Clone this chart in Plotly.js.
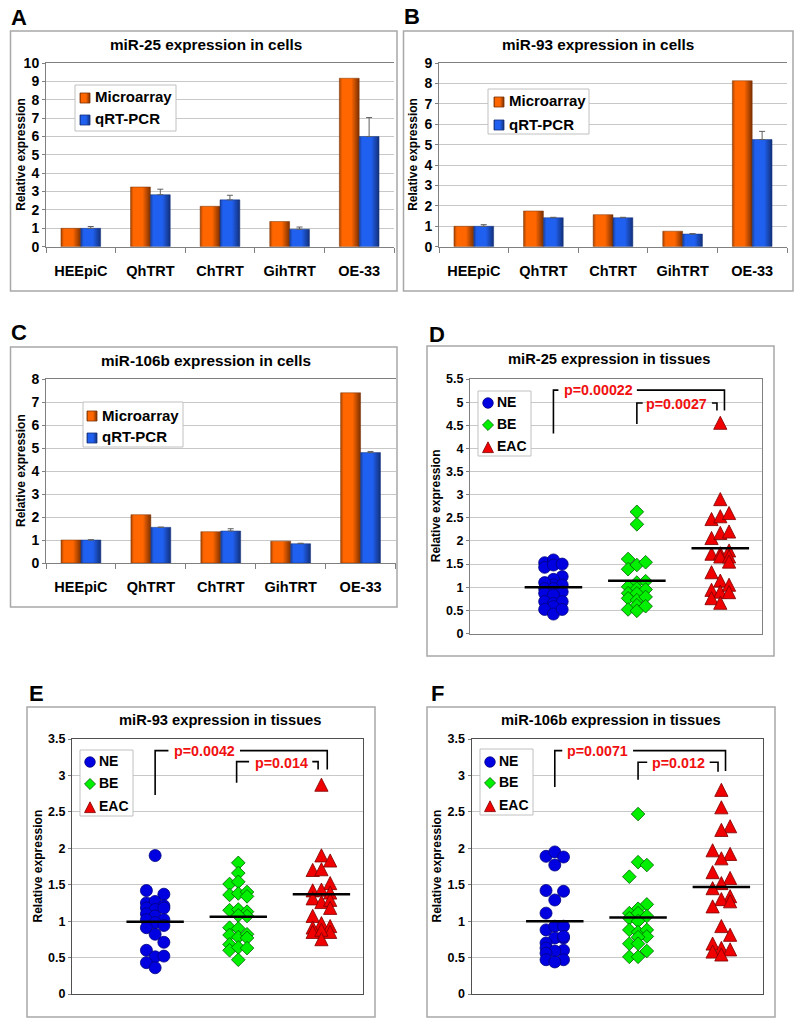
<!DOCTYPE html>
<html>
<head>
<meta charset="utf-8">
<script src="https://cdn.plot.ly/plotly-3.0.1.min.js"></script>
<style>body { margin: 0; background: #fff; }</style>
</head>
<body>
<div id="chart" style="width:800px;height:1025px"></div>
<script>
var categories = ['HEEpiC', 'QhTRT', 'ChTRT', 'GihTRT', 'OE-33'];

// bar panels
var miR25CellArray = [1, 3.25, 2.2, 1.37, 9.17];
var miR25CellPcr = [1, 2.83, 2.55, 0.95, 6.0];
var miR25CellErr = [0.1, 0.3, 0.25, 0.12, 1.03];

var miR93CellArray = [1, 1.75, 1.57, 0.76, 8.13];
var miR93CellPcr = [1, 1.42, 1.42, 0.62, 5.25];
var miR93CellErr = [0.08, 0.02, 0.02, 0.02, 0.4];

var miR106CellArray = [1, 2.1, 1.36, 0.95, 7.4];
var miR106CellPcr = [1, 1.55, 1.39, 0.84, 4.8];
var miR106CellErr = [0.01, 0.01, 0.1, 0.02, 0.05];

// tissue panels: value plus swarm column (-1, 0, 1) for each sample
var d25NE = [1.53, 1.43, 1.59, 1.48, 1.50, 1.23, 1.17, 1.05, 1.10, 1.05, 0.97, 0.97, 0.90, 0.87, 0.83, 0.69, 0.65, 0.69, 0.58, 0.52, 0.42, 0.52];
var d25NEcol = [-1, -1, 0, 0, 1, 1, 0, 0, -1, 1, -1, 0, 1, -1, 0, -1, 0, 1, 0, -1, 0, 1];
var d25BE = [2.63, 2.36, 1.61, 1.39, 1.48, 1.54, 1.10, 1.13, 1.01, 0.97, 0.95, 0.87, 0.87, 0.76, 0.72, 0.79, 0.61, 0.52, 0.49, 0.59];
var d25BEcol = [0, 0, -1, -1, 0, 1, 0, 1, -1, 0, 1, -1, 0, -1, 0, 1, 0, -1, 0, 1];
var d25EAC = [4.55, 2.90, 2.47, 2.53, 2.60, 2.06, 2.17, 2.20, 1.72, 1.73, 1.79, 1.66, 1.66, 1.55, 1.32, 1.14, 0.94, 0.90, 1.05, 0.89, 0.76, 0.66];
var d25EACcol = [0, 0, -1, 0, 1, -1, 0, 1, -1, 0, 1, 0, 1, 1, -1, 0, -1, 0, 1, 1, -1, 0];

var d93NE = [1.90, 1.42, 1.37, 1.25, 1.27, 1.21, 1.18, 1.16, 1.18, 1.10, 1.07, 1.02, 1.02, 0.98, 0.94, 0.91, 0.82, 0.71, 0.60, 0.51, 0.52, 0.43, 0.36];
var d93NEcol = [0, -1, 1, -1, 0, 1, -1, 0, 1, -1, 0, 1, -1, 0, 1, -1, 0, 1, -1, 0, 1, -1, 0];
var d93BE = [1.80, 1.66, 1.51, 1.54, 1.36, 1.38, 1.40, 1.34, 1.15, 1.16, 1.13, 1.07, 1.08, 0.91, 0.90, 0.81, 0.78, 0.82, 0.77, 0.68, 0.60, 0.64, 0.63, 0.47];
var d93BEcol = [0, 0, -1, 0, -1, 0, 1, 1, -1, 0, 1, 1, 0, -1, 0, -1, 0, 1, 1, -1, -1, 0, 1, 0];
var d93EAC = [2.87, 1.90, 1.83, 1.70, 1.71, 1.52, 1.42, 1.43, 1.39, 1.31, 1.26, 1.29, 1.18, 1.07, 0.97, 0.91, 0.93, 0.85, 0.85, 0.88, 0.75];
var d93EACcol = [0, 0, 1, -1, 0, 1, -1, 0, 1, -1, 0, 1, 1, -1, 0, -1, 1, -1, 1, 0, 0];

var d106NE = [1.89, 1.95, 1.88, 1.77, 1.42, 1.41, 1.29, 1.11, 0.88, 0.93, 0.93, 0.77, 0.77, 0.79, 0.70, 0.63, 0.60, 0.59, 0.56, 0.47, 0.47, 0.44];
var d106NEcol = [-1, 0, 1, 0, -1, 1, 0, -1, -1, 0, 1, 0, 1, 1, -1, -1, 1, 0, -1, 1, -1, 0];
var d106BE = [2.47, 1.81, 1.77, 1.61, 1.23, 1.17, 1.11, 1.11, 1.07, 1.04, 1.00, 0.88, 0.85, 0.88, 0.79, 0.78, 0.69, 0.69, 0.59, 0.51, 0.51];
var d106BEcol = [0, 0, 1, -1, 1, 0, -1, 0, 1, -1, 0, -1, 0, 1, 1, 0, -1, 0, 1, -1, 0];
var d106EAC = [2.80, 2.56, 2.30, 2.25, 1.97, 1.92, 1.86, 1.67, 1.59, 1.52, 1.45, 1.34, 1.30, 1.27, 1.20, 0.93, 0.81, 0.69, 0.63, 0.61, 0.58, 0.54];
var d106EACcol = [0, 0, 1, 0, -1, 1, 0, -1, 1, 0, -1, 1, 0, 1, -1, 0, 1, -1, 0, 1, -1, 0];

// group means, the black bars over the swarms
var d25Means = [1.0, 1.14, 1.84];
var d93Means = [0.99, 1.06, 1.37];
var d106Means = [1.0, 1.05, 1.47];
var groupCenters = [1, 2, 3];
var meanHalfWidth = 0.345;
var columnStep = 0.105;

// p value brackets as x / y lists, null breaks the line round the label
var d25Bracket1X = [1, 1, 1.06, null, 2.0, 3.05, 3.05];
var d25Bracket1Y = [4.32, 5.26, 5.26, null, 5.26, 5.26, 4.82];
var d25Bracket2X = [2, 2, 2.07, null, 2.9, 2.96, 2.96];
var d25Bracket2Y = [4.53, 4.98, 4.98, null, 4.98, 4.98, 4.82];

var d93Bracket1X = [1, 1, 1.16, null, 2.02, 3.07, 3.07];
var d93Bracket1Y = [2.73, 3.34, 3.34, null, 3.34, 3.34, 3.08];
var d93Bracket2X = [1.98, 1.98, 2.13, null, 2.89, 2.96, 2.96];
var d93Bracket2Y = [2.9, 3.19, 3.19, null, 3.19, 3.19, 3.08];

var d106Bracket1X = [1, 1, 1.09, null, 1.94, 3.05, 3.05];
var d106Bracket1Y = [2.84, 3.34, 3.34, null, 3.34, 3.34, 3.06];
var d106Bracket2X = [2, 2, 2.11, null, 2.86, 2.96, 2.96];
var d106Bracket2Y = [2.94, 3.18, 3.18, null, 3.18, 3.18, 3.05];

var FONT = 'Liberation Sans, Arial, sans-serif';
var W = 800, H = 1025;
var ORANGE = '#ff6600', BLUE = '#2060f0';
var CIRCLE_BLUE = '#0000e0', DIAMOND_GREEN = '#00f000', TRI_RED = '#f00000';

var traces = [];
var keyTraces = []; // hand built legends, kept last so they sit over the plots
var layout = {
    width: W,
    height: H,
    margin: {l: 0, r: 0, t: 0, b: 0},
    paper_bgcolor: 'white',
    plot_bgcolor: 'rgba(0,0,0,0)',
    font: {family: FONT, color: 'black'},
    bargap: 0.43,
    bargroupgap: 0,
    barmode: 'group',
    showlegend: false,
    shapes: [],
    annotations: [],
    // page sized overlay in pixels, only for the legend boxes
    xaxis7: {domain: [0, 1], range: [0, W], visible: false, anchor: 'y7'},
    yaxis7: {domain: [0, 1], range: [H, 0], visible: false, anchor: 'x7'}
};

function paperX(px) { return px / W; }
function paperY(px) { return 1 - px / H; }

function addLabel(text, px, py, size, color, angle, anchor) {
    layout.annotations.push({
        text: '<b>' + text + '</b>',
        xref: 'paper', yref: 'paper',
        x: paperX(px), y: paperY(angle ? py : py - 1),
        xanchor: anchor || 'center', yanchor: 'middle',
        textangle: angle || 0,
        showarrow: false,
        font: {family: FONT, size: size, color: color}
    });
}

function addBox(box) {
    layout.shapes.push({
        type: 'rect', xref: 'paper', yref: 'paper', layer: 'below',
        x0: paperX(box[0]), x1: paperX(box[2]),
        y0: paperY(box[1]), y1: paperY(box[3]),
        line: {color: '#a8a8a8', width: 1.5},
        fillcolor: 'white'
    });
}

// legend: white box, then one glyph and one label per row
function addKey(box, rows, textSize) {
    keyTraces.push({
        type: 'scatter', mode: 'lines', fill: 'toself', fillcolor: 'white',
        x: [box[0], box[2], box[2], box[0], box[0]],
        y: [box[1], box[1], box[3], box[3], box[1]],
        xaxis: 'x7', yaxis: 'y7', hoverinfo: 'skip',
        line: {color: '#c0c0c0', width: 1}
    });
    rows.forEach(function (r) {
        keyTraces.push({
            type: 'scatter', mode: 'markers',
            x: [r.gx], y: [r.gy],
            xaxis: 'x7', yaxis: 'y7', hoverinfo: 'skip',
            marker: {symbol: r.symbol, color: r.color, size: r.size, line: {color: r.edge, width: 0.8}}
        });
        addLabel(r.text, r.tx - 2, r.gy, textSize, 'black', 0, 'left');
    });
}

function addAxes(n, plot, yRange, yDtick, frameColor, tickSize) {
    var suffix = n === 1 ? '' : String(n);
    layout['yaxis' + suffix] = {
        domain: [paperY(plot[3]), paperY(plot[1])],
        anchor: 'x' + suffix,
        range: yRange,
        dtick: yDtick,
        tick0: 0,
        showgrid: true,
        gridcolor: '#c8c8c8',
        gridwidth: 1,
        zeroline: false,
        showline: true,
        linecolor: frameColor,
        linewidth: 1,
        ticks: 'outside',
        ticklen: 3,
        tickcolor: '#808080',
        tickfont: {family: FONT, size: tickSize, color: 'black', weight: 'bold'}
    };
    layout['xaxis' + suffix] = {
        domain: [paperX(plot[0]), paperX(plot[2])],
        anchor: 'y' + suffix,
        showgrid: false,
        zeroline: false,
        showline: true,
        mirror: true,
        linecolor: frameColor,
        linewidth: 1
    };
    return suffix;
}

function addBarPanel(n, letter, letterPos, title, titlePos, box, plot, yMax, arr, pcr, err, yTitleX, keyBox, keyGlyphX, keyTextX, keyRows) {
    addBox(box);
    addLabel(letter, letterPos[0], letterPos[1], 22, 'black');
    addLabel(title, titlePos[0], titlePos[1], 15.3, 'black');
    addLabel('Relative expression', yTitleX, (plot[1] + plot[3]) / 2, 12, 'black', -90);
    var s = addAxes(n, plot, [0, yMax], 1, '#808080', 14);
    var xa = layout['xaxis' + s];
    xa.type = 'category';
    xa.categoryorder = 'array';
    xa.categoryarray = categories;
    xa.ticks = 'outside';
    xa.tickson = 'boundaries';
    xa.ticklen = 5;
    xa.tickcolor = '#808080';
    xa.ticklabelstandoff = 11;
    xa.tickfont = {family: FONT, size: 14.5, color: 'black', weight: 'bold'};

    traces.push({
        type: 'bar', x: categories, y: arr,
        xaxis: 'x' + s, yaxis: 'y' + s,
        marker: {color: ORANGE, line: {color: '#7a3000', width: 0.5}}
    });
    traces.push({
        type: 'bar', x: categories, y: pcr,
        xaxis: 'x' + s, yaxis: 'y' + s,
        marker: {color: BLUE, line: {color: '#12307a', width: 0.5}},
        error_y: {
            type: 'data', symmetric: false,
            array: err, arrayminus: err.map(function () { return 0; }),
            color: '#606060', thickness: 1, width: 3
        }
    });
    addKey(keyBox, [
        {text: 'Microarray', symbol: 'square', color: ORANGE, edge: '#7a3000', size: 10, gx: keyGlyphX, gy: keyRows[0], tx: keyTextX},
        {text: 'qRT-PCR', symbol: 'square', color: BLUE, edge: '#12307a', size: 10, gx: keyGlyphX, gy: keyRows[1], tx: keyTextX}
    ], 15);
}

function swarmX(center, cols) {
    return cols.map(function (c) { return center + c * columnStep; });
}

function addSwarm(s, groupIdx, values, cols, symbol, color, edge, size) {
    traces.push({
        type: 'scatter', mode: 'markers',
        x: swarmX(groupCenters[groupIdx], cols), y: values,
        xaxis: 'x' + s, yaxis: 'y' + s,
        marker: {symbol: symbol, color: color, size: size, line: {color: edge, width: 0.8}}
    });
}

function addDotPanel(n, letter, letterPos, title, titlePos, box, plot, frame, yMax, sets, means, brackets, pLabels, yTitleX, keyBox, keyGlyphX, keyTextX, keyRows) {
    addBox(box);
    addLabel(letter, letterPos[0], letterPos[1], 22, 'black');
    addLabel(title, titlePos[0], titlePos[1], 14.7, 'black');
    addLabel('Relative expression', yTitleX, (plot[1] + plot[3]) / 2, 12, 'black', -90);
    var s = addAxes(n, plot, [0, yMax], 0.5, frame, 12.5);
    var xa = layout['xaxis' + s];
    xa.range = [0, 3.5];
    xa.showticklabels = false;
    xa.ticks = '';
    layout['yaxis' + s].mirror = true;

    addSwarm(s, 0, sets[0], sets[1], 'circle', CIRCLE_BLUE, '#000080', 12);
    addSwarm(s, 1, sets[2], sets[3], 'diamond', DIAMOND_GREEN, '#006000', 10.5);
    addSwarm(s, 2, sets[4], sets[5], 'triangle-up', TRI_RED, '#800000', 14);

    means.forEach(function (m, i) {
        traces.push({
            type: 'scatter', mode: 'lines',
            x: [groupCenters[i] - meanHalfWidth, groupCenters[i] + meanHalfWidth],
            y: [m, m],
            xaxis: 'x' + s, yaxis: 'y' + s,
            line: {color: 'black', width: 2.5}
        });
    });
    brackets.forEach(function (b) {
        traces.push({
            type: 'scatter', mode: 'lines', connectgaps: false,
            x: b[0], y: b[1],
            xaxis: 'x' + s, yaxis: 'y' + s,
            line: {color: 'black', width: 1.6}
        });
    });
    pLabels.forEach(function (p) {
        layout.annotations.push({
            text: '<b>' + p[0] + '</b>',
            xref: 'x' + s, yref: 'y' + s,
            x: p[1], y: p[2],
            xanchor: 'center', yanchor: 'middle',
            showarrow: false,
            font: {family: FONT, size: 14.3, color: '#f01010'}
        });
    });
    addKey(keyBox, [
        {text: 'NE', symbol: 'circle', color: CIRCLE_BLUE, edge: '#000080', size: 10.5, gx: keyGlyphX, gy: keyRows[0], tx: keyTextX},
        {text: 'BE', symbol: 'diamond', color: DIAMOND_GREEN, edge: '#006000', size: 8.5, gx: keyGlyphX, gy: keyRows[1], tx: keyTextX},
        {text: 'EAC', symbol: 'triangle-up', color: TRI_RED, edge: '#800000', size: 11.5, gx: keyGlyphX, gy: keyRows[2], tx: keyTextX}
    ], 14);
}

addBarPanel(1, 'A', [19, 18], 'miR-25 expression in cells', [206, 45],
    [10.5, 31, 397, 291], [46, 63, 394, 246.7], 10,
    miR25CellArray, miR25CellPcr, miR25CellErr, 21,
    [75, 85, 176, 131], 85, 95, [98, 120]);
addBarPanel(2, 'B', [412, 17], 'miR-93 expression in cells', [598, 45],
    [403.5, 31, 793, 291], [439, 63, 787, 246.7], 9,
    miR93CellArray, miR93CellPcr, miR93CellErr, 413,
    [488, 89, 589, 134], 499, 509, [102, 125]);
addBarPanel(3, 'C', [19, 333], 'miR-106b expression in cells', [206, 361],
    [10.5, 347, 397, 607], [46, 379, 395.5, 563], 8,
    miR106CellArray, miR106CellPcr, miR106CellErr, 21,
    [83, 402, 183, 447], 92, 102, [416, 438]);

addDotPanel(4, 'D', [437, 335], 'miR-25 expression in tissues', [608.5, 360],
    [427, 346, 774, 656], [470, 379, 762, 633.5], '#808080', 5.5,
    [d25NE, d25NEcol, d25BE, d25BEcol, d25EAC, d25EACcol], d25Means,
    [[d25Bracket1X, d25Bracket1Y], [d25Bracket2X, d25Bracket2Y]],
    [['p=0.00022', 1.535, 5.26], ['p=0.0027', 2.48, 4.96]], 436,
    [478, 391, 531, 456], 488, 497, [403, 425, 447]);
addDotPanel(5, 'E', [36, 694], 'miR-93 expression in tissues', [220, 721],
    [27, 707, 375, 1017], [72, 739, 363, 994], '#505050', 3.5,
    [d93NE, d93NEcol, d93BE, d93BEcol, d93EAC, d93EACcol], d93Means,
    [[d93Bracket1X, d93Bracket1Y], [d93Bracket2X, d93Bracket2Y]],
    [['p=0.0042', 1.59, 3.33], ['p=0.014', 2.52, 3.17]], 37,
    [80, 750, 133, 816], 90, 99, [762, 784, 807]);
addDotPanel(6, 'F', [437, 694], 'miR-106b expression in tissues', [611, 721],
    [427, 707, 775, 1017], [471.5, 739, 763, 994], '#505050', 3.5,
    [d106NE, d106NEcol, d106BE, d106BEcol, d106EAC, d106EACcol], d106Means,
    [[d106Bracket1X, d106Bracket1Y], [d106Bracket2X, d106Bracket2Y]],
    [['p=0.0071', 1.51, 3.33], ['p=0.012', 2.49, 3.17]], 436,
    [480, 749, 533, 815], 490, 499, [762, 783, 806]);

traces = traces.concat(keyTraces);

// Excel style shading and the taller triangles, plotly has no option for either
function finishMarks(gd) {
    var svg = gd.querySelector('svg.main-svg');
    var defs = svg.querySelector('defs');
    var ns = 'http://www.w3.org/2000/svg';
    function addGradient(id, stops) {
        var g = document.createElementNS(ns, 'linearGradient');
        g.setAttribute('id', id);
        stops.forEach(function (st) {
            var el = document.createElementNS(ns, 'stop');
            el.setAttribute('offset', st[0]);
            el.setAttribute('stop-color', st[1]);
            g.appendChild(el);
        });
        defs.appendChild(g);
    }
    addGradient('orangeShade', [[0, '#a84400'], [0.15, '#ff6600'], [0.6, '#ff6600'], [1, '#7a3000']]);
    addGradient('blueShade', [[0, '#1a3f9a'], [0.15, '#2060f0'], [0.6, '#2060f0'], [1, '#12307a']]);
    gd.querySelectorAll('.cartesianlayer path.point, .barlayer .point path').forEach(function (p) {
        var fill = p.style.fill;
        if (fill === 'rgb(255, 102, 0)') { p.style.fill = 'url(#orangeShade)'; }
        if (fill === 'rgb(32, 96, 240)') { p.style.fill = 'url(#blueShade)'; }
        if (fill === 'rgb(240, 0, 0)') {
            p.setAttribute('transform', p.getAttribute('transform') + ' translate(0,2) scale(0.82,1.25)');
        }
    });
}

Plotly.newPlot('chart', traces, layout, {displayModeBar: false, staticPlot: true}).then(finishMarks);
</script>
</body>
</html>
